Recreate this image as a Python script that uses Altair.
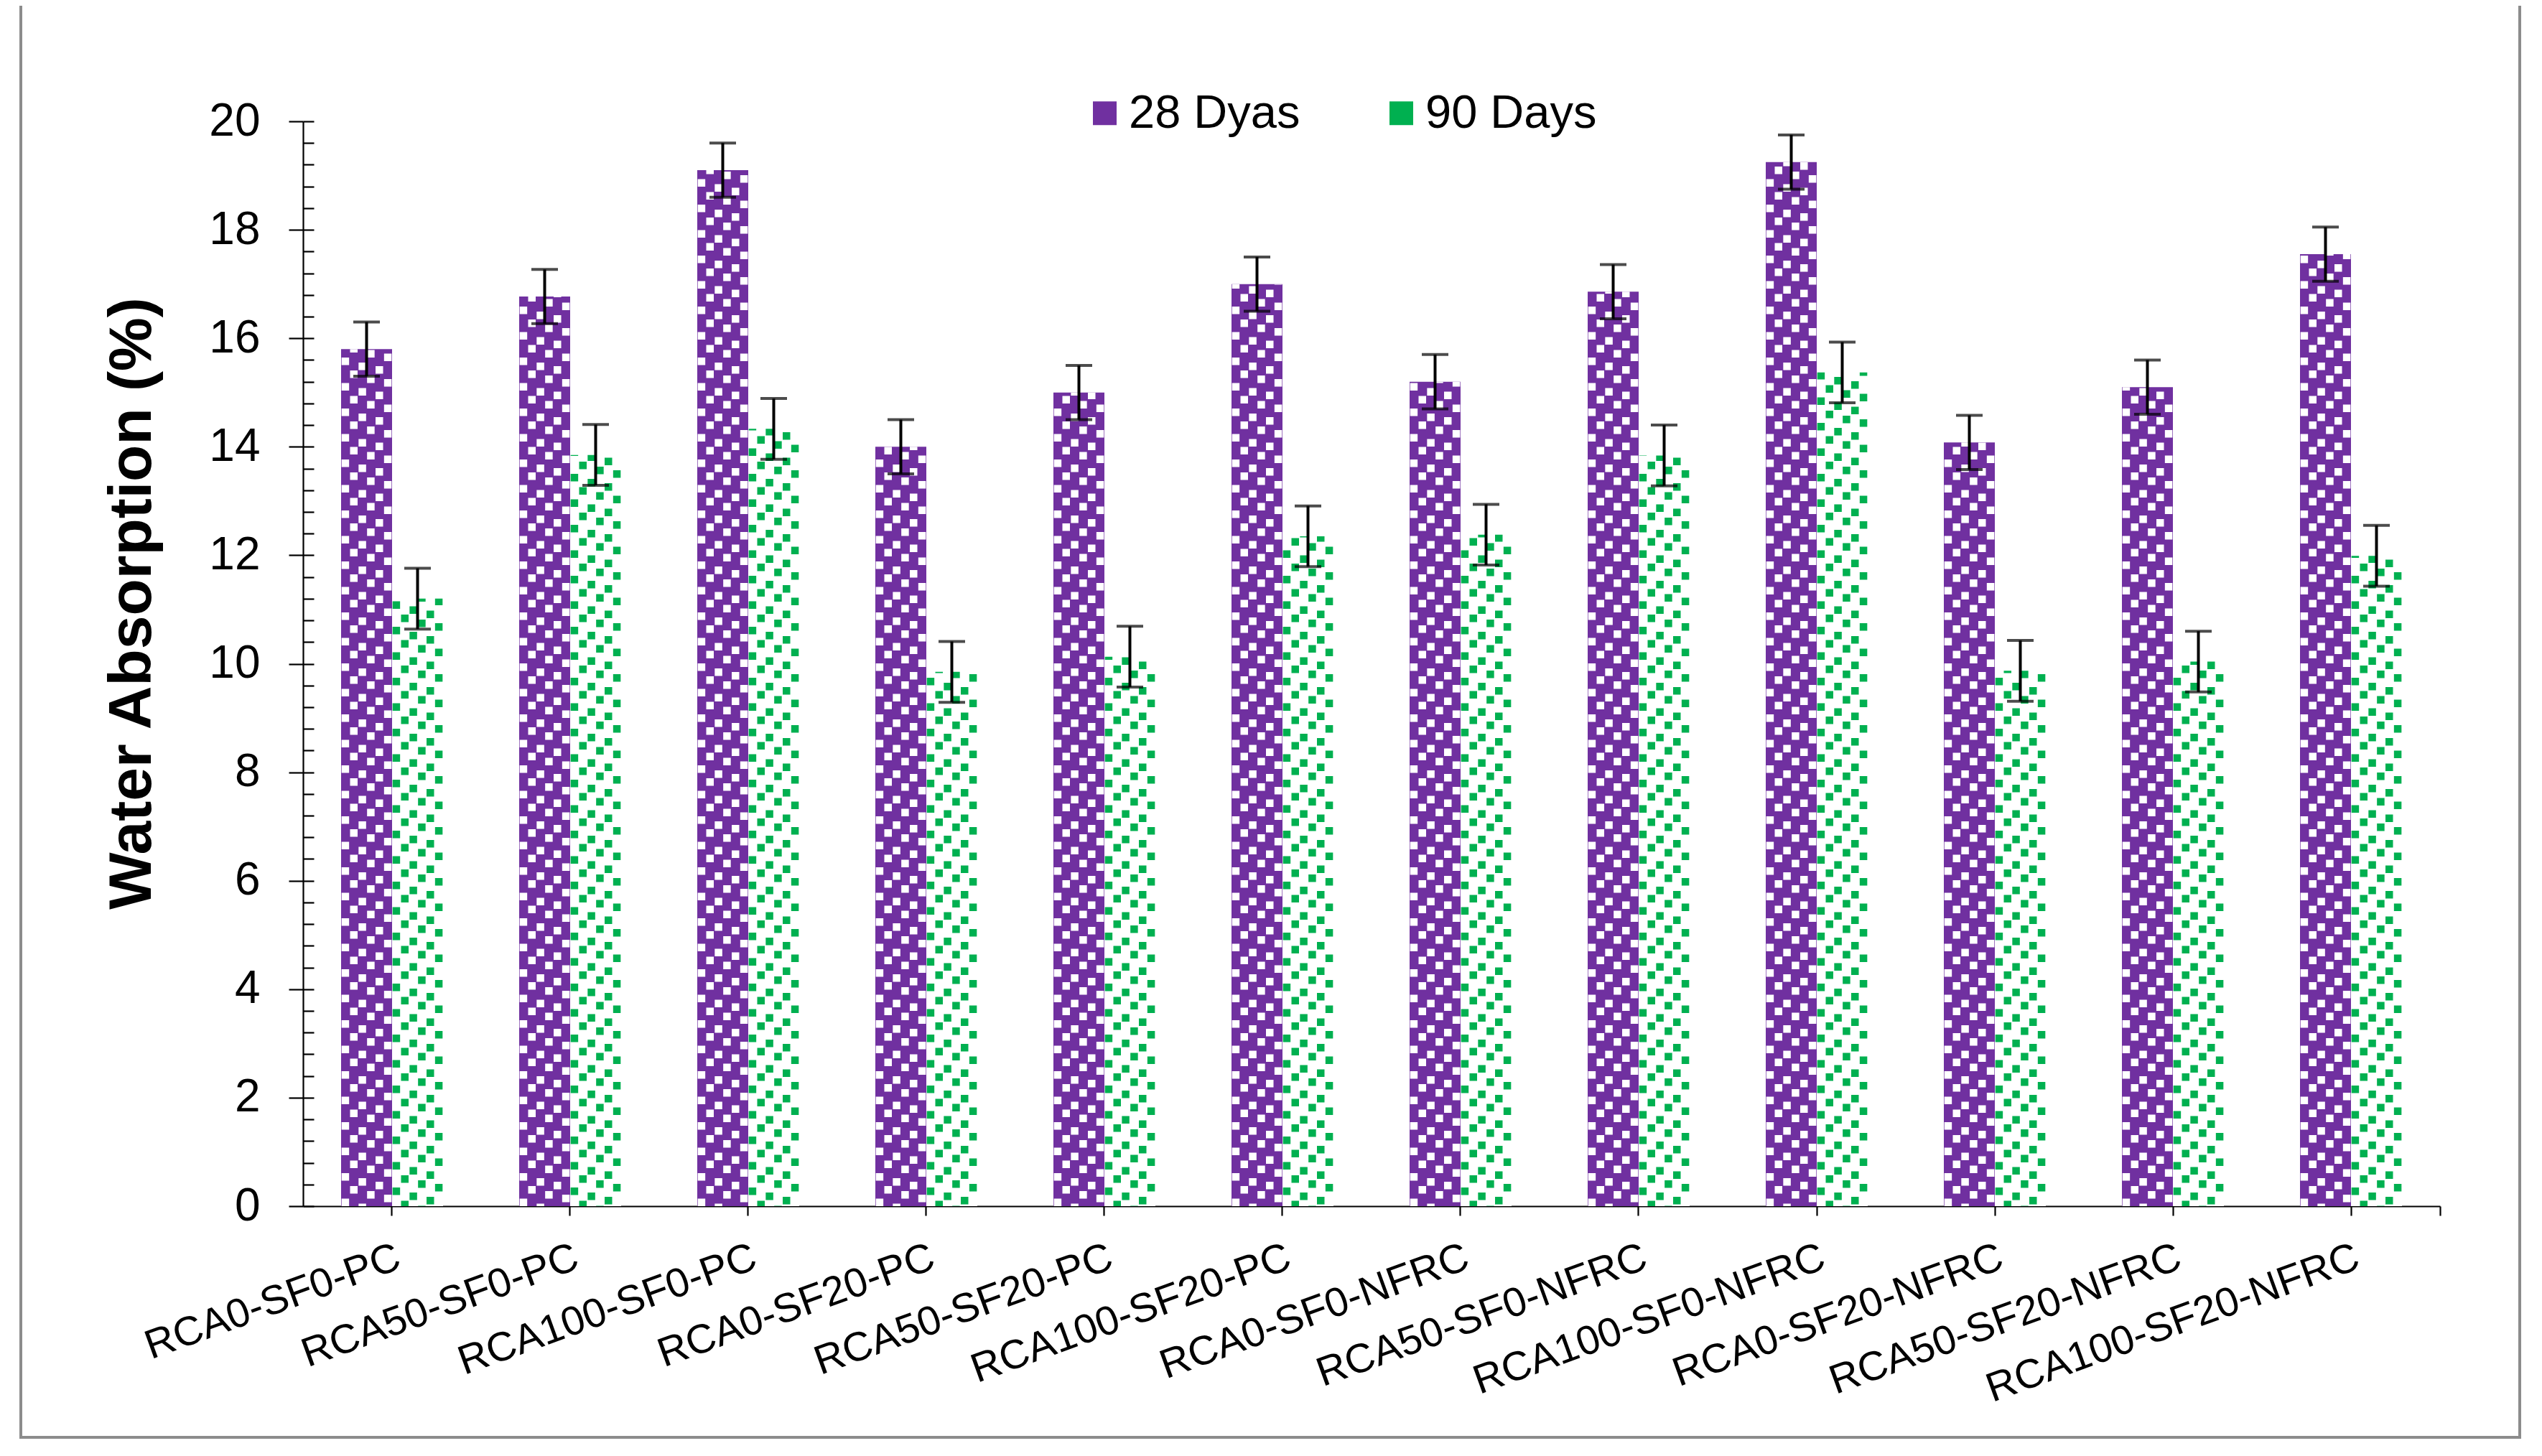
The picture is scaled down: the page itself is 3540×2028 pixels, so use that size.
import altair as alt
import pandas as pd

categories = ["RCA0-SF0-PC", "RCA50-SF0-PC", "RCA100-SF0-PC", "RCA0-SF20-PC",
              "RCA50-SF20-PC", "RCA100-SF20-PC", "RCA0-SF0-NFRC", "RCA50-SF0-NFRC",
              "RCA100-SF0-NFRC", "RCA0-SF20-NFRC", "RCA50-SF20-NFRC", "RCA100-SF20-NFRC"]
series_names = ["28 Dyas", "90 Days"]
days28 = [15.8, 16.77, 19.1, 14.0, 15.0, 17.0, 15.2, 16.86, 19.25, 14.08, 15.1, 17.55]
days90 = [11.2, 13.85, 14.33, 9.85, 10.13, 12.35, 12.38, 13.84, 15.37, 9.87, 10.04, 11.99]
err28 = [0.5, 0.5, 0.5, 0.5, 0.5, 0.5, 0.5, 0.5, 0.5, 0.5, 0.5, 0.5]
err90 = [0.56, 0.56, 0.56, 0.56, 0.56, 0.56, 0.56, 0.56, 0.56, 0.56, 0.56, 0.56]
y_major = [0, 2, 4, 6, 8, 10, 12, 14, 16, 18, 20]
y_minor = [round(i * 0.4, 1) for i in range(51)]

PURPLE = "#7030A0"
GREEN = "#00B050"
FONT = "Liberation Sans"


def make_df(vals, errs, name):
    return pd.DataFrame({
        "cat": categories,
        "series": name,
        "value": vals,
        "zero": 0.0,
        "lo": [v - e for v, e in zip(vals, errs)],
        "hi": [v + e for v, e in zip(vals, errs)],
    })


df28 = make_df(days28, err28, series_names[0])
df90 = make_df(days90, err90, series_names[1])

PAD_IN = 0.415
PAD_OUT = PAD_IN / 2
xscale = alt.Scale(paddingInner=PAD_IN, paddingOuter=PAD_OUT)

x_axis = alt.Axis(orient="bottom", title=None, labelAngle=-20, labelAlign="right",
                  labelBaseline="top", labelFontSize=57, labelFont=FONT,
                  labelColor="black", labelLimit=0, labelPadding=30, labelOverlap=False,
                  tickSize=13, tickWidth=2.2, tickColor="black", domainColor="black",
                  domainWidth=2.2, grid=False)
# extra tick at the right end of the category axis (half a step past the last centre)
x_axis_end = alt.Axis(orient="bottom", title=None, values=[categories[-1]],
                      bandPosition=0.5 + 0.5 / (1 - PAD_IN),
                      labels=False, domain=False, tickSize=13, tickWidth=2.2,
                      tickColor="black", grid=False)


def xenc(band_pos=None, axis=None):
    kw = dict(sort=categories, title=None, axis=axis, scale=xscale)
    if band_pos is not None:
        kw["bandPosition"] = band_pos
    return alt.X("cat:N", **kw)


yscale = alt.Scale(domain=[0, 20], nice=False, zero=True)

y_axis_main = alt.Axis(orient="left", values=y_major, tickSize=20, tickWidth=2.2,
                       tickColor="black", domainColor="black", domainWidth=2.2,
                       labelFontSize=64, labelFont=FONT, labelColor="black",
                       labelPadding=40, grid=False, title="Water Absorption (%)",
                       titleFont=FONT, titleFontSize=84, titleFontWeight="bold",
                       titleColor="black", titleX=-195, titleY=671)
y_axis_inner = alt.Axis(orient="left", values=y_minor, tickSize=15, tickWidth=2.2,
                        tickColor="black", offset=-15, domain=False, labels=False,
                        title=None, grid=False)

legend = alt.Legend(orient="none", legendX=1084, legendY=-44, direction="horizontal",
                    title=None, symbolType="square", symbolSize=1089,
                    symbolStrokeWidth=0, labelFontSize=65, labelFont=FONT,
                    labelColor="black", labelLimit=0, labelOffset=1,
                    columnPadding=108, padding=0)

BW = 71.0
CELL = BW / 6
SQ = 10.5
PERIOD = 3 * CELL
PHASE_PURPLE = [0, 18, 7, 25, 12, 30]
PHASE_GREEN = [20, 3, 27, 10, 33, 15]

layers = []

frame_df = pd.DataFrame({"a": [0]})
layers.append(
    alt.Chart(frame_df).mark_rect(fillOpacity=0, stroke="#8c8c8c", strokeWidth=4).encode(
        x=alt.value(-393), x2=alt.value(3087), y=alt.value(-167), y2=alt.value(1833))
)

# 28 days bars: purple with white confetti squares
layers.append(
    alt.Chart(df28).mark_bar(width=BW, xOffset=-BW / 2).encode(
        x=xenc(axis=x_axis),
        y=alt.Y("value:Q", scale=yscale, axis=y_axis_main),
        fill=alt.Fill("series:N", scale=alt.Scale(domain=series_names, range=[PURPLE, GREEN]),
                      legend=legend),
    )
)
for k in range(6):
    layers.append(
        alt.Chart(df28).mark_rule(color="white", strokeWidth=SQ, strokeDash=[SQ, PERIOD - SQ],
                                  strokeDashOffset=PHASE_PURPLE[k],
                                  xOffset=-BW + CELL * (k + 0.5)).encode(
            x=xenc(0.5),
            y=alt.Y("zero:Q", scale=yscale, axis=None),
            y2="value:Q",
        )
    )

# 90 days bars: white with green confetti squares
layers.append(
    alt.Chart(df90).mark_bar(width=BW, xOffset=BW / 2, fill="white").encode(
        x=xenc(axis=x_axis_end),
        y=alt.Y("value:Q", scale=yscale, axis=y_axis_inner),
    )
)
for k in range(6):
    layers.append(
        alt.Chart(df90).mark_rule(color=GREEN, strokeWidth=SQ, strokeDash=[SQ, PERIOD - SQ],
                                  strokeDashOffset=PHASE_GREEN[k],
                                  xOffset=CELL * (k + 0.5)).encode(
            x=xenc(0.5),
            y=alt.Y("zero:Q", scale=yscale, axis=None),
            y2="value:Q",
        )
    )

# error bars
for d, off in ((df28, -BW / 2), (df90, BW / 2)):
    layers.append(
        alt.Chart(d).mark_rule(color="black", strokeWidth=4, xOffset=off).encode(
            x=xenc(0.5),
            y=alt.Y("lo:Q", scale=yscale, axis=None),
            y2="hi:Q",
        )
    )
    for fld in ("lo", "hi"):
        layers.append(
            alt.Chart(d).mark_tick(color="black", size=37, thickness=4, xOffset=off).encode(
                x=xenc(0.5),
                y=alt.Y(f"{fld}:Q", scale=yscale, axis=None),
            )
        )

chart = alt.layer(*layers).resolve_axis(y="independent", x="independent").properties(
    width=2976, height=1511,
    padding={"left": 414, "top": 161, "right": 120, "bottom": 336},
    autosize=alt.AutoSizeParams(type="none"),
    background="white",
).configure_view(strokeWidth=0, stroke="transparent")

chart.save("out.html", embed_options={"renderer": "svg", "actions": False})
